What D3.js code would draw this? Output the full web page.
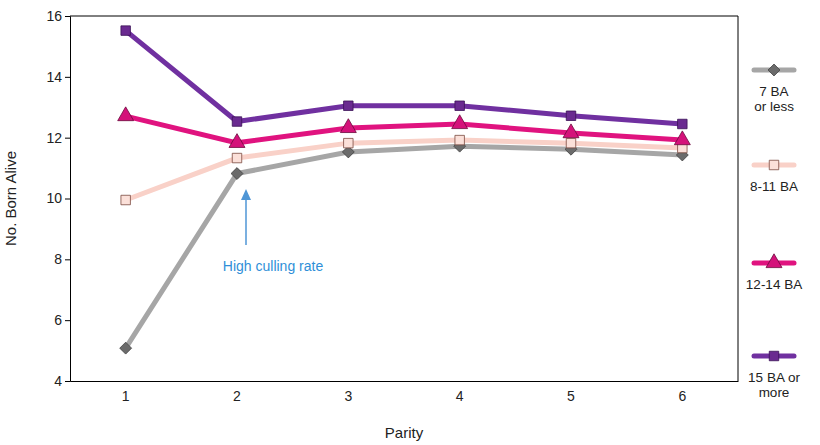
<!DOCTYPE html>
<html><head><meta charset="utf-8">
<script src="https://cdn.jsdelivr.net/npm/d3@7"></script>
<style>body{margin:0;background:#fff}svg{font-family:"Liberation Sans",Arial,sans-serif}</style>
</head><body>
<svg id="chart" width="820" height="445"></svg>
<script>
const parities = ["1", "2", "3", "4", "5", "6"];
const yTicks = [4, 6, 8, 10, 12, 14, 16];
const ba7 = [5.08, 10.82, 11.53, 11.72, 11.62, 11.43];
const ba8_11 = [9.95, 11.33, 11.82, 11.92, 11.82, 11.66];
const ba12_14 = [12.71, 11.83, 12.32, 12.45, 12.15, 11.92];
const ba15 = [15.52, 12.53, 13.05, 13.05, 12.72, 12.45];

const series = [
  { label: ["7 BA", "or less"], values: ba7, line: "#a6a6a6", fill: "#6b6b6b", stroke: "#404040", shape: d3.symbolDiamond2 },
  { label: ["8-11 BA"], values: ba8_11, line: "#f9d1c8", fill: "#fbe0d9", stroke: "#7a4a40", shape: d3.symbolSquare },
  { label: ["12-14 BA"], values: ba12_14, line: "#e0137f", fill: "#d4127a", stroke: "#6b0a3c", shape: d3.symbolTriangle },
  { label: ["15 BA or", "more"], values: ba15, line: "#7030a0", fill: "#6a2a90", stroke: "#3a1256", shape: d3.symbolSquare }
];

const svg = d3.select("#chart");
const mLeft = 70, mRight = 738, mTop = 16, mBottom = 381;

const x = d3.scaleBand().domain(parities).range([mLeft, mRight]);
const y = d3.scaleLinear().domain([4, 16]).range([mBottom, mTop]);

svg.append("g")
  .attr("transform", `translate(${mLeft},0)`)
  .call(d3.axisLeft(y).tickValues(yTicks).tickSize(5))
  .call(g => g.selectAll("text").attr("font-size", 14).attr("fill", "#222"))
  .call(g => g.selectAll("line,path").attr("stroke", "#000"));

svg.append("g")
  .attr("transform", `translate(0,${mBottom})`)
  .call(d3.axisBottom(x).tickSize(0).tickPadding(10))
  .call(g => g.select(".domain").attr("stroke", "#000"))
  .call(g => g.selectAll("text").attr("font-size", 14).attr("fill", "#222"));

svg.append("line").attr("x1", mLeft).attr("x2", mRight).attr("y1", mTop).attr("y2", mTop).attr("stroke", "#000");
svg.append("line").attr("x1", mRight).attr("x2", mRight).attr("y1", mTop).attr("y2", mBottom).attr("stroke", "#000");

svg.append("text").attr("transform", `translate(16,${(mTop + mBottom) / 2}) rotate(-90)`)
  .attr("text-anchor", "middle").attr("font-size", 15).attr("fill", "#222").text("No. Born Alive");
svg.append("text").attr("x", (mLeft + mRight) / 2).attr("y", 438)
  .attr("text-anchor", "middle").attr("font-size", 15).attr("fill", "#222").text("Parity");

const cx = d => x(d) + x.bandwidth() / 2;
const line = d3.line().x((v, i) => cx(parities[i])).y(v => y(v));

series.forEach(s => {
  svg.append("path").datum(s.values).attr("d", line)
    .attr("fill", "none").attr("stroke", s.line).attr("stroke-width", 5);
  svg.selectAll(null).data(s.values).enter().append("path")
    .attr("transform", (v, i) => `translate(${cx(parities[i])},${y(v)})`)
    .attr("d", d3.symbol().type(s.shape).size(s.shape === d3.symbolTriangle ? 110 : 90))
    .attr("fill", s.fill).attr("stroke", s.stroke).attr("stroke-width", 0.8);
});

// annotation
const ax = cx("2") + 9;
svg.append("line").attr("x1", ax).attr("x2", ax).attr("y1", 245).attr("y2", 198)
  .attr("stroke", "#4f96d6").attr("stroke-width", 1.5);
svg.append("path").attr("d", `M${ax - 5},${200} L${ax},${189} L${ax + 5},${200} Z`).attr("fill", "#4f96d6");
svg.append("text").attr("x", ax + 27).attr("y", 271).attr("text-anchor", "middle")
  .attr("font-size", 14).attr("fill", "#2f8fd8").text("High culling rate");

// legend
const legY = [70, 165, 263, 356];
series.forEach((s, i) => {
  const g = svg.append("g").attr("transform", `translate(774,${legY[i]})`);
  g.append("line").attr("x1", -20).attr("x2", 20).attr("stroke", s.line).attr("stroke-width", 5).attr("stroke-linecap", "round");
  g.append("path").attr("d", d3.symbol().type(s.shape).size(s.shape === d3.symbolTriangle ? 110 : 90))
    .attr("fill", s.fill).attr("stroke", s.stroke).attr("stroke-width", 0.8);
  s.label.forEach((t, j) => {
    g.append("text").attr("y", 26 + j * 15).attr("text-anchor", "middle")
      .attr("font-size", 13.5).attr("fill", "#222").text(t);
  });
});
</script>
</body></html>
